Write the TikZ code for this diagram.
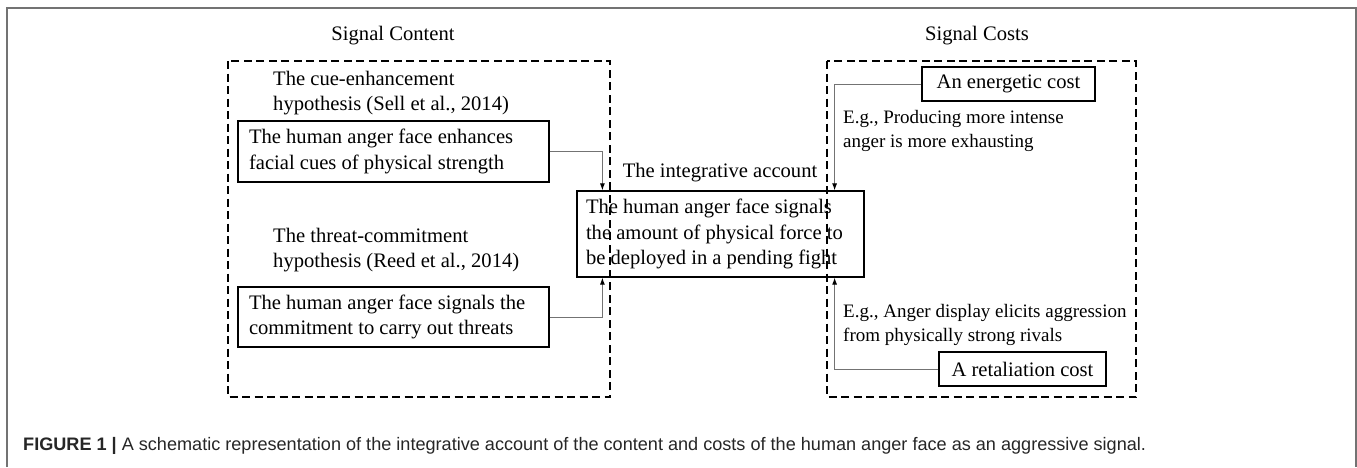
\documentclass[tikz,border=0pt]{standalone}
\usepackage{fontspec}
\setmainfont{Liberation Serif}
\newfontfamily\capfont{Liberation Sans}
\usetikzlibrary{arrows.meta}
\newcommand\boxtext[2]{\makebox[#1][l]{\begin{tabular}{@{}l@{}}#2\end{tabular}}}
\begin{document}
\begin{tikzpicture}[x=1pt,y=-1pt,
  lbl/.style={font=\fontsize{20.6}{25.5}\selectfont, inner sep=0pt, align=left},
  note/.style={font=\fontsize{19}{23.5}\selectfont, inner sep=0pt, align=left},
  box/.style={draw=black, line width=1.2pt, rectangle, font=\fontsize{20.6}{25.5}\selectfont, inner ysep=0pt},
  dashbox/.style={draw=black, line width=1.1pt, dash pattern=on 8pt off 4.5pt},
  conn/.style={draw=black!55, line width=1pt, -{Latex[length=7pt,width=5pt,black]}},
]
\useasboundingbox (0,0) rectangle (1357,467);
% frame
\draw[black!55, line width=1.5pt] (7,467) -- (7,8) -- (1356,8) -- (1356,467);

% headings
\node[lbl] (hc) at (393,36) {Signal Content};
\node[lbl] (hs) at (977,36) {Signal Costs};

% left column
\node[lbl, anchor=west] (cue) at (273,93) {The cue-enhancement\\hypothesis (Sell et al., 2014)};
\node[box, inner xsep=11pt, minimum height=61pt] (b1) at (393.5,151.5)
  {\boxtext{289pt}{The human anger face enhances\\facial cues of physical strength}};
\node[lbl, anchor=west] (thr) at (273,250) {The threat-commitment\\hypothesis (Reed et al., 2014)};
\node[box, inner xsep=11pt, minimum height=60pt] (b2) at (393.5,317)
  {\boxtext{289pt}{The human anger face signals the\\commitment to carry out threats}};

% centre
\node[lbl] (ia) at (720,173) {The integrative account};
\node[box, inner xsep=9pt, minimum height=86pt] (c) at (720.5,234)
  {\boxtext{269pt}{The human anger face signals\\the amount of physical force to\\be deployed in a pending fight}};

% right column
\node[box, inner xsep=8pt, minimum width=173pt, minimum height=34pt] (eb) at (1008.5,84) {An energetic cost};
\node[note, anchor=west] (eg1) at (843,131) {E.g., Producing more intense\\anger is more exhausting};
\node[note, anchor=west] (eg2) at (843,325) {E.g., Anger display elicits aggression\\from physically strong rivals};
\node[box, inner xsep=8pt, minimum width=167pt, minimum height=34pt] (rb) at (1022.5,369) {A retaliation cost};

% connectors
\draw[conn] (b1.east) -| ([xshift=26pt]c.north west);
\draw[conn] (b2.east) -| ([xshift=26pt]c.south west);
\draw[conn] (eb.west) -| ([xshift=-30pt]c.north east);
\draw[conn] (rb.west) -| ([xshift=-30pt]c.south east);

% dashed groups
\draw[dashbox] (228,61) rectangle (610,397);
\draw[dashbox] (827,61) rectangle (1136,397);

% caption
\node[anchor=west, inner sep=0pt, text=black!85, font=\capfont\fontsize{18.1}{20}\selectfont] (cap) at (23,446)
  {\textbf{FIGURE 1 |} A schematic representation of the integrative account of the content and costs of the human anger face as an aggressive signal.};
\end{tikzpicture}
\end{document}
